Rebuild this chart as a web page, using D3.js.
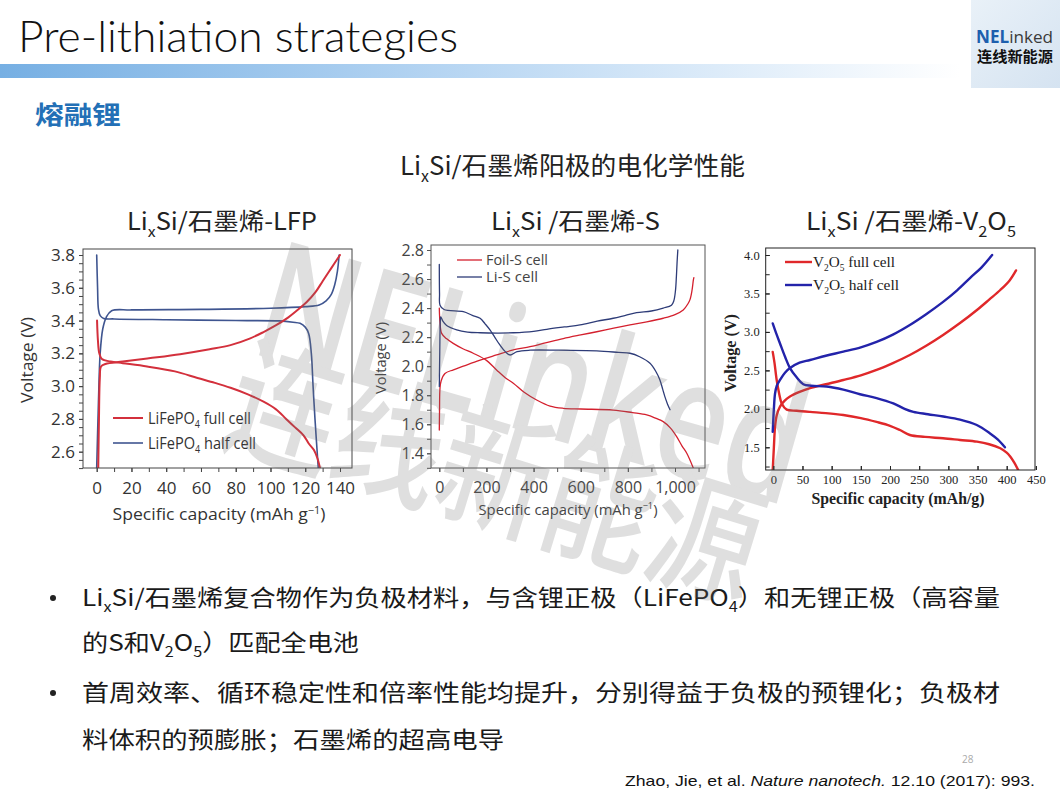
<!DOCTYPE html>
<html><head><meta charset="utf-8">
<script src="https://cdn.jsdelivr.net/npm/d3@7/dist/d3.min.js"></script>
<style>body{margin:0;background:#fff;}svg{display:block}</style>
</head><body>
<svg id="c" width="1060" height="795"></svg>
<script>
// ---------------- DATA ----------------
// Panel 1: LixSi/graphene - LiFePO4
const lfpXTicks = [0,20,40,60,80,100,120,140];
const lfpYTicks = [2.6,2.8,3.0,3.2,3.4,3.6,3.8];
const lfpFullCharge = [[0.9,2.5],[1.3,2.8],[1.8,3.05],[2.5,3.12],[5,3.135],[15,3.15],[30,3.17],[48,3.195],[65,3.225],[77,3.25],[88,3.29],[96,3.33],[103,3.37],[109,3.41],[115,3.46],[121,3.515],[126,3.575],[130,3.64],[135,3.72],[140,3.80]];
const lfpFullDischarge = [[0.2,3.4],[0.7,3.28],[1.5,3.2],[3,3.165],[8,3.15],[15,3.14],[29,3.12],[45,3.09],[58,3.05],[68,3.02],[77,2.99],[87,2.95],[96,2.905],[103,2.86],[109,2.80],[114,2.75],[119,2.70],[122,2.65],[125,2.61],[127,2.56],[128.5,2.5]];
const lfpHalfCharge = [[0,2.5],[1,2.9],[2,3.2],[3.5,3.35],[5.5,3.42],[8.6,3.46],[20,3.465],[60,3.468],[100,3.475],[120,3.485],[128,3.495],[132,3.52],[135,3.56],[137,3.62],[138.5,3.70],[139.5,3.80]];
const lfpHalfDischarge = [[0,3.8],[0.5,3.6],[1,3.47],[2,3.43],[4,3.413],[10,3.41],[40,3.405],[80,3.4],[105,3.398],[113,3.39],[117,3.383],[120,3.36],[122,3.32],[123.5,3.2],[124.5,3.0],[125.6,2.8],[127.5,2.5]];

// Panel 2: LixSi/graphene - S
const lisXTicks = [0,200,400,600,800,1000];
const lisYTicks = [1.4,1.6,1.8,2.0,2.2,2.4,2.6,2.8];
const lisFoilCharge = [[0,1.56],[1,1.7],[3,1.85],[8,1.9],[24,1.95],[60,1.975],[102,2.0],[170,2.04],[243,2.077],[310,2.11],[385,2.134],[450,2.16],[526,2.19],[600,2.215],[668,2.237],[740,2.262],[809,2.284],[880,2.305],[950,2.33],[1000,2.355],[1035,2.387],[1055,2.43],[1064,2.46],[1072,2.52],[1078,2.594],[1080,2.61]];
const lisFoilDischarge = [[0,2.4],[3,2.3],[10,2.226],[30,2.19],[59,2.157],[100,2.12],[144,2.089],[200,2.04],[243,1.974],[280,1.92],[314,1.883],[360,1.82],[413,1.767],[470,1.725],[526,1.71],[600,1.705],[738,1.698],[820,1.68],[880,1.664],[920,1.64],[950,1.618],[980,1.575],[1007,1.515],[1030,1.45],[1050,1.40],[1078,1.297]];
const lisLiCharge = [[0,1.86],[2,2.1],[4,2.3],[6,2.34],[15,2.31],[31,2.28],[74,2.25],[120,2.235],[173,2.23],[250,2.228],[314,2.23],[400,2.24],[456,2.254],[530,2.27],[597,2.284],[670,2.31],[738,2.33],[790,2.35],[837,2.368],[900,2.38],[950,2.40],[985,2.42],[995,2.45],[1002,2.52],[1006,2.62],[1009,2.72],[1012,2.8]];
const lisLiDischarge = [[0,2.70],[1,2.5],[3,2.42],[20,2.39],[102,2.375],[140,2.35],[173,2.33],[195,2.29],[215,2.25],[235,2.2],[257,2.146],[280,2.1],[300,2.077],[330,2.1],[385,2.11],[500,2.11],[668,2.105],[760,2.095],[809,2.089],[850,2.065],[894,2.02],[920,1.96],[936,1.905],[948,1.84],[957,1.79],[968,1.74],[979,1.70]];

// Panel 3: LixSi/graphene - V2O5
const vXTicks = [0,50,100,150,200,250,300,350,400,450];
const vYTicks = [1.5,2.0,2.5,3.0,3.5,4.0];
const vFullCharge = [[-1,1.2],[1,1.5],[3,1.77],[6,1.92],[11.5,2.03],[20,2.11],[28.6,2.16],[45,2.22],[63,2.27],[90,2.32],[120,2.375],[150,2.435],[177,2.505],[205,2.595],[234,2.70],[262,2.82],[291,2.96],[320,3.115],[349,3.285],[370,3.42],[389,3.545],[405,3.67],[416,3.80]];
const vFullDischarge = [[-1,2.74],[2,2.6],[5.8,2.375],[10,2.2],[14.4,2.07],[23,1.99],[40,1.975],[63,1.96],[90,1.945],[120,1.92],[150,1.88],[177,1.83],[200,1.78],[217,1.725],[234,1.66],[260,1.635],[291,1.617],[320,1.595],[349,1.573],[370,1.54],[389,1.487],[400,1.43],[406,1.38],[413,1.30],[420,1.2]];
const vHalfCharge = [[-1,1.7],[1,2.0],[3,2.2],[6,2.3],[11.5,2.375],[20,2.47],[28.6,2.53],[45,2.6],[63,2.635],[90,2.69],[120,2.743],[150,2.8],[177,2.87],[205,2.965],[234,3.09],[262,3.23],[291,3.39],[315,3.54],[337,3.70],[357,3.84],[375,4.0]];
const vHalfDischarge = [[-1,3.11],[5,2.98],[11.5,2.85],[20,2.68],[28.6,2.53],[40,2.41],[51.4,2.32],[65,2.3],[91.5,2.29],[120,2.25],[148.6,2.19],[177,2.14],[205.7,2.07],[225,2.0],[240,1.96],[265,1.93],[291.4,1.90],[320,1.86],[348.7,1.79],[371.5,1.68],[385,1.6],[397,1.50]];

// ---------------- DRAWING ----------------
const svg = d3.select('#c');
const defs = svg.append('defs');
const CJK = "'Noto Sans CJK SC','Noto Sans',sans-serif";

function rich(g, x, y, parts, o) {
  const t = g.append('text').attr('x', x).attr('y', y)
    .attr('font-size', o.size).attr('font-family', o.font || CJK).attr('fill', o.color || '#111');
  if (o.anchor) t.attr('text-anchor', o.anchor);
  if (o.len) t.attr('textLength', o.len).attr('lengthAdjust', 'spacingAndGlyphs');
  if (o.weight) t.attr('font-weight', o.weight);
  if (o.transform) t.attr('transform', o.transform);
  let shift = 0;
  const subSize = o.size * 0.62;
  parts.forEach(p => {
    const s = typeof p === 'string' ? {t: p} : p;
    const ts = t.append('tspan').text(s.t);
    let target = s.sub ? o.size * 0.28 : (s.sup ? -o.size * 0.38 : 0);
    if (target !== shift) { ts.attr('dy', target - shift); shift = target; }
    if (s.sub || s.sup) ts.attr('font-size', subSize);
    if (s.italic) ts.attr('font-style', 'italic');
  });
  return t;
}

// Header bar
const grad = defs.append('linearGradient').attr('id', 'bar').attr('x1', 0).attr('x2', 1);
grad.append('stop').attr('offset', 0).attr('stop-color', '#76afe3');
grad.append('stop').attr('offset', 0.45).attr('stop-color', '#b4d4f2');
grad.append('stop').attr('offset', 1).attr('stop-color', '#ffffff');
svg.append('rect').attr('x', 0).attr('y', 64).attr('width', 960).attr('height', 14).attr('fill', 'url(#bar)');

svg.append('text').attr('x', 18).attr('y', 52).text('Pre-lithiation strategies')
  .attr('font-family', "Lato,'Open Sans',sans-serif").attr('font-weight', 300).attr('font-size', 44)
  .attr('fill', '#111').attr('textLength', 440).attr('lengthAdjust', 'spacingAndGlyphs');

// Logo
const lg = defs.append('linearGradient').attr('id', 'logo').attr('x1', 0).attr('y1', 0).attr('x2', 1).attr('y2', 1);
lg.append('stop').attr('offset', 0).attr('stop-color', '#e9f1f8');
lg.append('stop').attr('offset', 1).attr('stop-color', '#d5e3f1');
svg.append('rect').attr('x', 971).attr('y', 0).attr('width', 89).attr('height', 88).attr('fill', 'url(#logo)');
const lt = svg.append('text').attr('x', 976).attr('y', 43).attr('font-family', "'Open Sans',sans-serif").attr('font-size', 17)
  .attr('textLength', 77).attr('lengthAdjust', 'spacingAndGlyphs');
lt.append('tspan').text('NEL').attr('fill', '#1d5fae').attr('font-weight', 700);
lt.append('tspan').text('inked').attr('fill', '#3a3a3a');
svg.append('text').attr('x', 977).attr('y', 62).text('连线新能源').attr('font-family', CJK).attr('font-weight', 700)
  .attr('font-size', 15).attr('fill', '#111').attr('textLength', 76).attr('lengthAdjust', 'spacingAndGlyphs');

// Section heading
svg.append('text').attr('x', 35).attr('y', 124).text('熔融锂').attr('font-family', CJK).attr('font-weight', 700)
  .attr('font-size', 25).attr('fill', '#2370b6').attr('textLength', 86).attr('lengthAdjust', 'spacingAndGlyphs');

// Chart titles
rich(svg, 400, 175, ['Li', {t: 'x', sub: true}, 'Si/石墨烯阳极的电化学性能'], {size: 25, len: 345, color: '#222'});
rich(svg, 127, 230, ['Li', {t: 'x', sub: true}, 'Si/石墨烯-LFP'], {size: 24, len: 190, color: '#222'});
rich(svg, 491, 230, ['Li', {t: 'x', sub: true}, 'Si /石墨烯-S'], {size: 24, len: 169, color: '#222'});
rich(svg, 806, 230, ['Li', {t: 'x', sub: true}, 'Si /石墨烯-V', {t: '2', sub: true}, 'O', {t: '5', sub: true}], {size: 24, len: 210, color: '#222'});

function panel(o) {
  const x = d3.scaleLinear().domain(o.xd).range(o.xr);
  const y = d3.scaleLinear().domain(o.yd).range(o.yr);
  const [L, T, R, B] = o.frame;
  const g = svg.append('g');
  g.append('rect').attr('x', L).attr('y', T).attr('width', R - L).attr('height', B - T).attr('fill', '#fff');
  const cid = 'clip' + o.id;
  defs.append('clipPath').attr('id', cid).append('rect').attr('x', L).attr('y', T).attr('width', R - L).attr('height', B - T);
  const line = d3.line().x(d => x(d[0])).y(d => y(d[1])).curve(d3.curveCatmullRom.alpha(0.5));
  const cg = g.append('g').attr('clip-path', `url(#${cid})`);
  o.series.forEach(s => cg.append('path').attr('d', line(s.data)).attr('fill', 'none')
    .attr('stroke', s.color).attr('stroke-width', s.w).attr('stroke-linejoin', 'round').attr('stroke-linecap', 'round'));
  g.append('rect').attr('x', L).attr('y', T).attr('width', R - L).attr('height', B - T)
    .attr('fill', 'none').attr('stroke', o.axisColor).attr('stroke-width', o.frameW || 1);
  const dir = o.inward ? -1 : 1;
  function styleAxis(sel) {
    sel.select('.domain').remove();
    sel.selectAll('line').attr('stroke', o.axisColor).attr('stroke-width', o.frameW || 1);
    sel.selectAll('text').attr('font-size', o.tickFont).attr('font-family', o.font).attr('fill', o.textColor);
  }
  // minor ticks
  const mx = g.append('g').attr('transform', `translate(0,${B})`)
    .call(d3.axisBottom(x).tickValues(o.xMinor).tickFormat('').tickSizeInner(dir * o.tick).tickSizeOuter(0));
  styleAxis(mx);
  const my = g.append('g').attr('transform', `translate(${L},0)`)
    .call(d3.axisLeft(y).tickValues(o.yMinor).tickFormat('').tickSizeInner(dir * o.tick).tickSizeOuter(0));
  styleAxis(my);
  // major ticks + labels
  const gx = g.append('g').attr('transform', `translate(0,${B})`)
    .call(d3.axisBottom(x).tickValues(o.xTicks).tickFormat(o.xFmt).tickSizeInner(dir * o.tick).tickSizeOuter(0).tickPadding(o.xPad));
  styleAxis(gx);
  const gy = g.append('g').attr('transform', `translate(${L},0)`)
    .call(d3.axisLeft(y).tickValues(o.yTicks).tickFormat(d3.format('.1f')).tickSizeInner(dir * o.tick).tickSizeOuter(0).tickPadding(o.yPad));
  styleAxis(gy);
  // axis titles
  rich(g, o.xLab[0], o.xLab[1], o.xLabParts, {size: o.labFont, font: o.font, color: o.textColor, anchor: 'middle', len: o.xLabLen, weight: o.labWeight});
  rich(g, 0, 0, ['Voltage (V)'], {size: o.labFont, font: o.font, color: o.textColor, anchor: 'middle', len: o.yLabLen, weight: o.labWeight,
    transform: `translate(${o.yLab[0]},${o.yLab[1]}) rotate(-90)`});
  // legend
  o.legend.forEach(it => {
    g.append('line').attr('x1', it.x1).attr('x2', it.x2).attr('y1', it.y).attr('y2', it.y)
      .attr('stroke', it.color).attr('stroke-width', it.w);
    rich(g, it.tx, it.y + o.legFont * 0.35, it.parts, {size: o.legFont, font: o.font, color: o.textColor, len: it.len});
  });
}

const sansFont = "'Open Sans','Noto Sans',sans-serif";
const serifFont = "'Liberation Serif','DejaVu Serif',serif";

panel({
  id: 1, xd: [0, 140], xr: [96.7, 340], yd: [2.6, 3.8], yr: [451.7, 255], frame: [83, 249, 352, 468],
  xTicks: lfpXTicks, yTicks: lfpYTicks, xMinor: d3.range(-0, 150, 10), yMinor: d3.range(2.5, 3.84, 0.05),
  xFmt: d3.format('d'), tick: 4, xPad: 10, yPad: 4, tickFont: 17, labFont: 17, legFont: 16,
  font: sansFont, textColor: '#333', axisColor: '#444',
  xLab: [219, 520], xLabLen: 213, yLab: [33, 360], yLabLen: 86,
  xLabParts: ['Specific capacity (mAh g', {t: '−1', sup: true}, ')'],
  series: [
    {data: lfpHalfCharge, color: '#3f5590', w: 1.6},
    {data: lfpHalfDischarge, color: '#3f5590', w: 1.6},
    {data: lfpFullCharge, color: '#d3303c', w: 2},
    {data: lfpFullDischarge, color: '#d3303c', w: 2}
  ],
  legend: [
    {x1: 113, x2: 143, y: 418, color: '#d3303c', w: 2, tx: 148, parts: ['LiFePO', {t: '4', sub: true}, ' full cell'], len: 103},
    {x1: 113, x2: 143, y: 443, color: '#3f5590', w: 1.6, tx: 148, parts: ['LiFePO', {t: '4', sub: true}, ' half cell'], len: 108}
  ]
});

panel({
  id: 2, xd: [0, 1000], xr: [439.3, 675], yd: [1.4, 2.8], yr: [453.3, 250], frame: [431, 245, 705, 468],
  xTicks: lisXTicks, yTicks: lisYTicks, xMinor: d3.range(0, 1150, 100), yMinor: d3.range(1.3, 2.84, 0.1),
  xFmt: d3.format(','), tick: 4, xPad: 10, yPad: 3, tickFont: 16, labFont: 15, legFont: 15,
  font: sansFont, textColor: '#444', axisColor: '#555',
  xLab: [568, 515], xLabLen: 179, yLab: [386, 358], yLabLen: 72,
  xLabParts: ['Specific capacity (mAh g', {t: '−1', sup: true}, ')'],
  series: [
    {data: lisFoilCharge, color: '#d4202e', w: 1.3},
    {data: lisFoilDischarge, color: '#d4202e', w: 1.3},
    {data: lisLiCharge, color: '#2e3c78', w: 1.3},
    {data: lisLiDischarge, color: '#2e3c78', w: 1.3}
  ],
  legend: [
    {x1: 457, x2: 482, y: 260, color: '#d4202e', w: 1.3, tx: 486, parts: ['Foil-S cell'], len: 62},
    {x1: 457, x2: 482, y: 277, color: '#2e3c78', w: 1.3, tx: 486, parts: ['Li-S cell'], len: 52}
  ]
});

panel({
  id: 3, xd: [0, 400], xr: [773.3, 1006.7], yd: [1.5, 4.0], yr: [447.3, 255], frame: [765.7, 248, 1035, 470],
  xTicks: vXTicks, yTicks: vYTicks, xMinor: vXTicks, yMinor: d3.range(1.25, 4.1, 0.25),
  xFmt: d3.format('d'), tick: 4, inward: true, xPad: 5, yPad: 6, tickFont: 12.5, labFont: 17, legFont: 15,
  font: serifFont, textColor: '#222', axisColor: '#222', labWeight: 700,
  xLab: [898, 504], xLabLen: 173, yLab: [736, 353], yLabLen: 78,
  xLabParts: ['Specific capacity (mAh/g)'],
  series: [
    {data: vFullCharge, color: '#e0282a', w: 2.4},
    {data: vFullDischarge, color: '#e0282a', w: 2.4},
    {data: vHalfCharge, color: '#2323aa', w: 2.4},
    {data: vHalfDischarge, color: '#2323aa', w: 2.4}
  ],
  legend: [
    {x1: 785, x2: 812, y: 262, color: '#e0282a', w: 2.4, tx: 813, parts: ['V', {t: '2', sub: true}, 'O', {t: '5', sub: true}, ' full cell'], len: 82},
    {x1: 785, x2: 812, y: 285, color: '#2323aa', w: 2.4, tx: 813, parts: ['V', {t: '2', sub: true}, 'O', {t: '5', sub: true}, ' half cell'], len: 86}
  ]
});

// Bullets
const bl = svg.append('g');
[598, 693].forEach(cy => bl.append('circle').attr('cx', 53).attr('cy', cy).attr('r', 3).attr('fill', '#222'));
rich(bl, 82, 606, ['Li', {t: 'x', sub: true}, 'Si/石墨烯复合物作为负极材料，与含锂正极（LiFePO', {t: '4', sub: true}, '）和无锂正极（高容量'], {size: 23, len: 918, color: '#1a1a1a'});
rich(bl, 82, 651, ['的S和V', {t: '2', sub: true}, 'O', {t: '5', sub: true}, '）匹配全电池'], {size: 23, len: 277, color: '#1a1a1a'});
rich(bl, 82, 701, ['首周效率、循环稳定性和倍率性能均提升，分别得益于负极的预锂化；负极材'], {size: 23, len: 918, color: '#1a1a1a'});
rich(bl, 82, 748, ['料体积的预膨胀；石墨烯的超高电导'], {size: 23, len: 422, color: '#1a1a1a'});

svg.append('text').attr('x', 962).attr('y', 763).text('28').attr('font-family', sansFont).attr('font-size', 10).attr('fill', '#aaa');
rich(svg, 625, 786, ['Zhao, Jie, et al. ', {t: 'Nature nanotech.', italic: true}, ' 12.10 (2017): 993.'],
  {size: 15, font: "'Liberation Sans',Arial,sans-serif", len: 410, color: '#111'});

// Watermark (semi-transparent overlay as in the reference)
const wm = svg.append('g').attr('opacity', 0.22).attr('fill', '#707070').attr('pointer-events', 'none');
wm.append('text').text('NELinked').attr('font-family', "'Open Sans',sans-serif").attr('font-weight', 600).attr('font-size', 165)
  .attr('textLength', 560).attr('lengthAdjust', 'spacingAndGlyphs').attr('transform', 'translate(248,352) rotate(16)');
wm.append('text').text('连线新能源').attr('font-family', CJK).attr('font-weight', 500).attr('font-size', 135)
  .attr('textLength', 550).attr('lengthAdjust', 'spacingAndGlyphs').attr('transform', 'translate(218,440) rotate(17)');
</script>
</body></html>
